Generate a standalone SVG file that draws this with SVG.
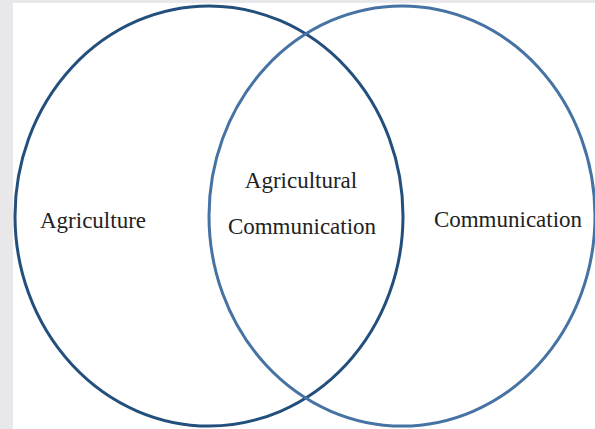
<svg xmlns="http://www.w3.org/2000/svg" width="595" height="429" viewBox="0 0 595 429">
<style>
.lbl{font-family:"Liberation Serif","Times New Roman",serif;font-size:23px;fill:#222;text-anchor:middle}
.c{fill:none;stroke-width:3}
</style>
<rect x="0" y="0" width="595" height="429" fill="#e8e8eb"/>
<rect x="13" y="3" width="582" height="426" fill="#ffffff"/>
<g id="connectors"></g>
<g id="agriculture">
<ellipse class="c" cx="209" cy="216" rx="194" ry="210" stroke="#234f7d"/>
<text class="lbl" x="93" y="228">Agriculture</text>
</g>
<g id="communication">
<ellipse class="c" cx="402" cy="216" rx="193" ry="210" stroke="#4673a3"/>
<text class="lbl" x="508" y="227">Communication</text>
</g>
<g id="agricultural-communication">
<text class="lbl" x="301" y="188">Agricultural</text>
<text class="lbl" x="302" y="234">Communication</text>
</g>
</svg>
